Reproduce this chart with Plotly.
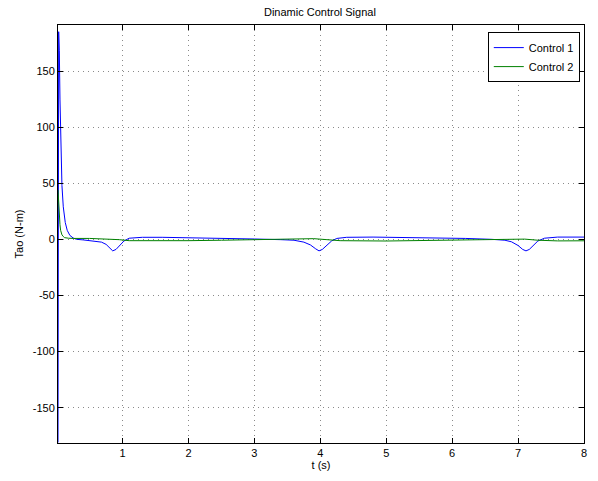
import plotly.graph_objects as go

# Control 1 (blue)
t1 = [0.02, 0.025, 0.03, 0.04, 0.05, 0.06, 0.07, 0.08, 0.10, 0.13, 0.16, 0.20, 0.25, 0.30, 0.40, 0.50,
      0.60, 0.68, 0.75, 0.80, 0.85, 0.90, 0.96, 1.02, 1.10, 1.30, 1.60, 2.00, 2.50, 3.00, 3.40, 3.60,
      3.75, 3.85, 3.93, 3.98, 4.03, 4.10, 4.17, 4.25, 4.40, 4.80, 5.30, 5.80, 6.20, 6.60, 6.80, 6.90,
      7.00, 7.07, 7.12, 7.17, 7.24, 7.30, 7.40, 7.60, 8.00]
u1 = [-181, 0, 185, 168, 125, 90, 66, 48, 29, 15, 8, 3.5, 1.2, 0, -0.5, -1,
      -1.5, -2.5, -4.5, -7.5, -10.3, -9, -5, -1.5, 1, 1.8, 1.8, 1.5, 1, 0.3, -0.3, -0.8,
      -2.5, -5, -8.5, -10.3, -9, -5, -1.5, 0.8, 1.8, 2, 1.8, 1.4, 0.8, 0, -0.8, -2.2,
      -5.5, -9, -10.3, -9, -5, -1.5, 1, 2, 2]

# Control 2 (green)
t2 = [0.02, 0.03, 0.04, 0.05, 0.06, 0.08, 0.10, 0.12, 0.18, 0.25, 0.50, 0.80, 0.95, 1.10, 1.50, 2.00,
      2.50, 3.00, 3.50, 3.90, 4.10, 4.30, 5.00, 6.00, 6.80, 7.10, 7.30, 7.60, 8.00]
u2 = [44, 30, 20, 13, 8, 4, 2.5, 1.5, 1, 0.8, 0.8, 0.5, -0.3, -1.2, -1.5, -1.2,
      -0.8, -0.3, 0.3, 0.6, -0.3, -1.2, -1.5, -1, -0.3, 0.2, -0.8, -1.4, -1.3]

x_ticks = [1, 2, 3, 4, 5, 6, 7, 8]
y_ticks = [-150, -100, -50, 0, 50, 100, 150]
y_tick_labels = ["-150", "-100", "-50", "0", "50", "100", "150"]

fig = go.Figure()
fig.add_trace(go.Scatter(x=t1, y=u1, mode="lines", name="Control 1",
                         line=dict(color="#0000ff", width=1)))
fig.add_trace(go.Scatter(x=t2, y=u2, mode="lines", name="Control 2",
                         line=dict(color="#008000", width=1)))

axis_common = dict(showline=True, linecolor="black", linewidth=1, mirror="ticks",
                   ticks="inside", ticklen=5, tickcolor="black",
                   showgrid=True, gridcolor="#8a8a8a", griddash="1px,4px", gridwidth=1,
                   zeroline=False, tickfont=dict(size=11, color="black"))

fig.update_layout(
    width=598, height=481,
    margin=dict(l=58, r=11, t=25, b=38),
    paper_bgcolor="white", plot_bgcolor="white",
    font=dict(family="Liberation Sans, Arial, sans-serif", size=11, color="black"),
    title=dict(text="Dinamic Control Signal", x=0.535, xanchor="center", y=0.975, yanchor="middle",
               font=dict(size=11)),
    xaxis=dict(range=[0.02, 8], tickvals=x_ticks,
               title=dict(text="t (s)", standoff=2, font=dict(size=11)), **axis_common),
    yaxis=dict(range=[-181.5, 191], tickvals=y_ticks, ticktext=y_tick_labels,
               title=dict(text="Tao (N-m)", standoff=6, font=dict(size=11)), **axis_common),
    legend=dict(x=0.992, y=0.983, xanchor="right", yanchor="top",
                bordercolor="black", borderwidth=1, bgcolor="white",
                font=dict(size=11), tracegroupgap=0, itemwidth=30),
    showlegend=True,
)

fig.write_html("out.html")
